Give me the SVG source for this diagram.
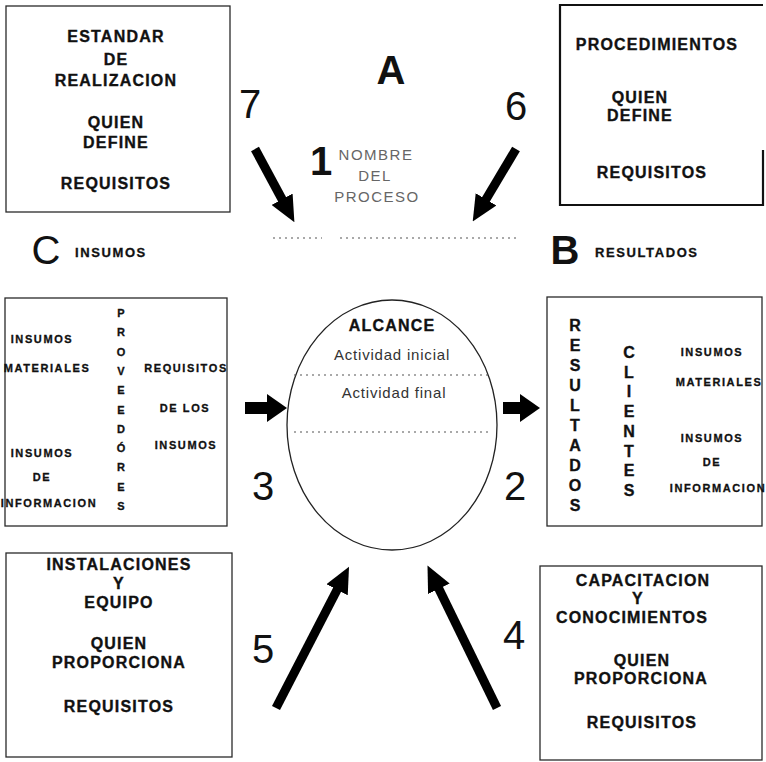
<svg xmlns="http://www.w3.org/2000/svg" width="766" height="762" viewBox="0 0 766 762">
<defs>
<style>
.box{fill:none;stroke:#2a2a2a;stroke-width:1.3}
.boxb{fill:none;stroke:#111;stroke-width:2.2}
.t{font-family:"Liberation Sans",Arial,Helvetica,sans-serif;font-weight:bold;font-size:16px;letter-spacing:1.2px;text-anchor:middle;fill:#111;stroke:#111;stroke-width:0.35}
.s{font-family:"Liberation Sans",Arial,Helvetica,sans-serif;font-weight:bold;font-size:11px;letter-spacing:1.6px;text-anchor:middle;fill:#111;stroke:#111;stroke-width:0.3}
.m{font-family:"Liberation Sans",Arial,Helvetica,sans-serif;font-weight:bold;font-size:13px;letter-spacing:1.6px;text-anchor:start;fill:#111;stroke:#111;stroke-width:0.3}
.v{font-family:"Liberation Sans",Arial,Helvetica,sans-serif;font-weight:bold;font-size:16px;text-anchor:middle;fill:#111;stroke:#111;stroke-width:0.35}
.vs{font-family:"Liberation Sans",Arial,Helvetica,sans-serif;font-weight:bold;font-size:11px;text-anchor:middle;fill:#111;stroke:#111;stroke-width:0.3}
.n{font-family:"Liberation Sans",Arial,Helvetica,sans-serif;font-size:40px;text-anchor:middle;fill:#111}
.g{font-family:"Liberation Sans",Arial,Helvetica,sans-serif;font-size:15px;letter-spacing:1.5px;text-anchor:middle;fill:#666}
.c{font-family:"Liberation Sans",Arial,Helvetica,sans-serif;font-size:15px;letter-spacing:0.8px;text-anchor:middle;fill:#333}
.dot{stroke:#555;stroke-width:1.2;stroke-dasharray:2 4;fill:none}
.arr{stroke:#000;stroke-width:9;fill:none}
.arrh{stroke:#000;stroke-width:12;fill:none}
</style>
<marker id="hd" markerUnits="userSpaceOnUse" viewBox="0 0 26 24" markerWidth="26" markerHeight="24" refX="2" refY="12" orient="auto">
<path d="M0,0 L26,12 L0,24 z" fill="#000"/>
</marker>
<marker id="hh" markerUnits="userSpaceOnUse" viewBox="0 0 20 28" markerWidth="20" markerHeight="28" refX="2" refY="14" orient="auto">
<path d="M0,0 L20,14 L0,28 z" fill="#000"/>
</marker>
</defs>
<rect width="766" height="762" fill="#fff"/>

<g id="estandar">
<rect class="box" x="6" y="6" width="224" height="206"/>
<text class="t" x="116" y="42">ESTANDAR</text>
<text class="t" x="116" y="65">DE</text>
<text class="t" x="116" y="86">REALIZACION</text>
<text class="t" x="116" y="128">QUIEN</text>
<text class="t" x="116" y="148">DEFINE</text>
<text class="t" x="116" y="189">REQUISITOS</text>
</g>

<g id="procedimientos">
<path class="boxb" d="M763,150 L763,205 L560,205 L560,5 L763,5"/>
<text class="t" x="657" y="50">PROCEDIMIENTOS</text>
<text class="t" x="640" y="103">QUIEN</text>
<text class="t" x="640" y="121">DEFINE</text>
<text class="t" x="652" y="178">REQUISITOS</text>
</g>

<g id="nombre">
<text class="n" x="391" y="84" font-weight="bold">A</text>
<text class="n" x="321" y="175" font-weight="bold">1</text>
<text class="g" x="376" y="160">NOMBRE</text>
<text class="g" x="375" y="181">DEL</text>
<text class="g" x="377" y="202">PROCESO</text>
<line class="dot" x1="273" y1="238" x2="322" y2="238"/>
<line class="dot" x1="340" y1="238" x2="520" y2="238"/>
</g>

<g id="labels">
<text class="n" x="250" y="118">7</text>
<text class="n" x="516" y="120">6</text>
<text class="n" x="263" y="500">3</text>
<text class="n" x="515" y="500">2</text>
<text class="n" x="263" y="663">5</text>
<text class="n" x="514" y="649">4</text>
</g>

<g id="insumos">
<text class="n" x="46" y="264" font-size="37">C</text>
<text class="m" x="75" y="257">INSUMOS</text>
<rect class="box" x="5" y="298" width="222" height="228"/>
<text class="s" x="42" y="343">INSUMOS</text>
<text class="s" x="47" y="372" letter-spacing="0.3">MATERIALES</text>
<text class="s" x="42" y="457">INSUMOS</text>
<text class="s" x="42" y="481">DE</text>
<text class="s" x="49" y="507" letter-spacing="0">INFORMACION</text>
<text class="vs" x="121" y="317"><tspan x="121">P</tspan><tspan x="121" dy="19.3">R</tspan><tspan x="121" dy="19.3">O</tspan><tspan x="121" dy="19.3">V</tspan><tspan x="121" dy="19.3">E</tspan><tspan x="121" dy="19.3">E</tspan><tspan x="121" dy="19.3">D</tspan><tspan x="121" dy="19.3">Ó</tspan><tspan x="121" dy="19.3">R</tspan><tspan x="121" dy="19.3">E</tspan><tspan x="121" dy="19.3">S</tspan></text>
<text class="s" x="186" y="372" letter-spacing="1">REQUISITOS</text>
<text class="s" x="185" y="412" font-weight="normal" fill="#333" stroke="none">DE LOS</text>
<text class="s" x="186" y="449">INSUMOS</text>
</g>

<g id="alcance">
<ellipse fill="none" stroke="#222" stroke-width="1.3" cx="392" cy="425" rx="105" ry="125"/>
<text class="t" x="392" y="331" letter-spacing="0.5">ALCANCE</text>
<text class="c" x="392" y="360">Actividad inicial</text>
<line class="dot" x1="294" y1="375" x2="490" y2="375"/>
<text class="c" x="394" y="398">Actividad final</text>
<line class="dot" x1="294" y1="432" x2="488" y2="432"/>
</g>

<g id="resultados">
<text class="n" x="565" y="264" font-size="37" font-weight="bold">B</text>
<text class="m" x="595" y="257">RESULTADOS</text>
<rect class="box" x="547" y="297" width="215" height="229"/>
<text class="v" x="575" y="331"><tspan x="575">R</tspan><tspan x="575" dy="20">E</tspan><tspan x="575" dy="20">S</tspan><tspan x="575" dy="20">U</tspan><tspan x="575" dy="20">L</tspan><tspan x="575" dy="20">T</tspan><tspan x="575" dy="20">A</tspan><tspan x="575" dy="20">D</tspan><tspan x="575" dy="20">O</tspan><tspan x="575" dy="20">S</tspan></text>
<text class="v" x="629" y="358"><tspan x="629">C</tspan><tspan x="629" dy="19.7">L</tspan><tspan x="629" dy="19.7">I</tspan><tspan x="629" dy="19.7">E</tspan><tspan x="629" dy="19.7">N</tspan><tspan x="629" dy="19.7">T</tspan><tspan x="629" dy="19.7">E</tspan><tspan x="629" dy="19.7">S</tspan></text>
<text class="s" x="712" y="356">INSUMOS</text>
<text class="s" x="719" y="386" letter-spacing="0.8">MATERIALES</text>
<text class="s" x="712" y="442">INSUMOS</text>
<text class="s" x="712" y="466">DE</text>
<text class="s" x="718" y="492" letter-spacing="0.6">INFORMACION</text>
</g>

<g id="instalaciones">
<rect class="box" x="6" y="553" width="226" height="204"/>
<text class="t" x="119" y="570">INSTALACIONES</text>
<text class="t" x="119" y="589">Y</text>
<text class="t" x="119" y="608">EQUIPO</text>
<text class="t" x="119" y="649">QUIEN</text>
<text class="t" x="119" y="668">PROPORCIONA</text>
<text class="t" x="119" y="712">REQUISITOS</text>
</g>

<g id="capacitacion">
<rect class="box" x="540" y="566" width="222" height="194"/>
<text class="t" x="643" y="586">CAPACITACION</text>
<text class="t" x="638" y="604">Y</text>
<text class="t" x="632" y="623">CONOCIMIENTOS</text>
<text class="t" x="642" y="666">QUIEN</text>
<text class="t" x="641" y="684">PROPORCIONA</text>
<text class="t" x="642" y="728">REQUISITOS</text>
</g>

<g id="connectors">
<line class="arr" x1="255" y1="149" x2="283" y2="201" marker-end="url(#hd)"/>
<line class="arr" x1="516" y1="149" x2="485" y2="201" marker-end="url(#hd)"/>
<line class="arrh" x1="245" y1="408" x2="269" y2="408" marker-end="url(#hh)"/>
<line class="arrh" x1="503" y1="408" x2="522" y2="408" marker-end="url(#hh)"/>
<line class="arr" x1="276" y1="708" x2="338" y2="588" marker-end="url(#hd)"/>
<line class="arr" x1="497" y1="708" x2="438" y2="587" marker-end="url(#hd)"/>
</g>
</svg>
